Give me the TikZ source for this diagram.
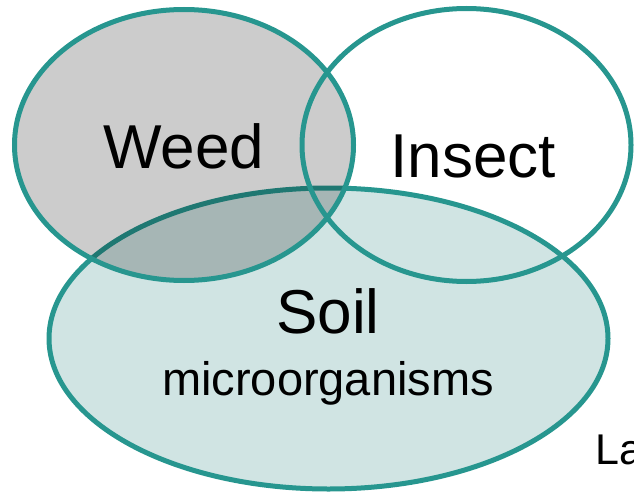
\documentclass[tikz,border=0pt]{standalone}
\usepackage{fontspec}
\setmainfont{Liberation Sans}
\definecolor{ring}{RGB}{39,150,143}
\definecolor{soilfill}{RGB}{208,228,227}
\tikzset{
  ringline/.style={draw=ring, line width=5pt},
  bigtext/.style={inner sep=0pt, anchor=base, font=\fontsize{62}{70}\selectfont},
  midtext/.style={inner sep=0pt, anchor=base, font=\fontsize{47}{54}\selectfont},
  smalltext/.style={inner sep=0pt, anchor=base west, font=\fontsize{43}{50}\selectfont}
}
\begin{document}
\begin{tikzpicture}[x=1pt,y=-1pt]
\useasboundingbox (0,0) rectangle (634,492);
\coordinate (soilc) at (328.5,338.5);
\coordinate (weedc) at (184,145);
\coordinate (insectc) at (466.5,145);
% soil
\path[ringline, fill=soilfill] (soilc) ellipse [x radius=279.5, y radius=150.5];
% weed (translucent dark fill)
\path[ringline, fill=black, fill opacity=0.2] (weedc) ellipse [x radius=169.5, y radius=135.5];
% insect
\path[ringline] (insectc) ellipse [x radius=164.5, y radius=136.5];
% labels
\node[bigtext] (weed) at (184,168) {Weed};
\node[bigtext] (insect) at (473,177) {Insect};
\node[bigtext] (soil) at (328,333) {Soil};
\node[midtext] (micro) at (328,395) {microorganisms};
\node[smalltext] (la) at (595,464) {La};
\end{tikzpicture}
\end{document}
